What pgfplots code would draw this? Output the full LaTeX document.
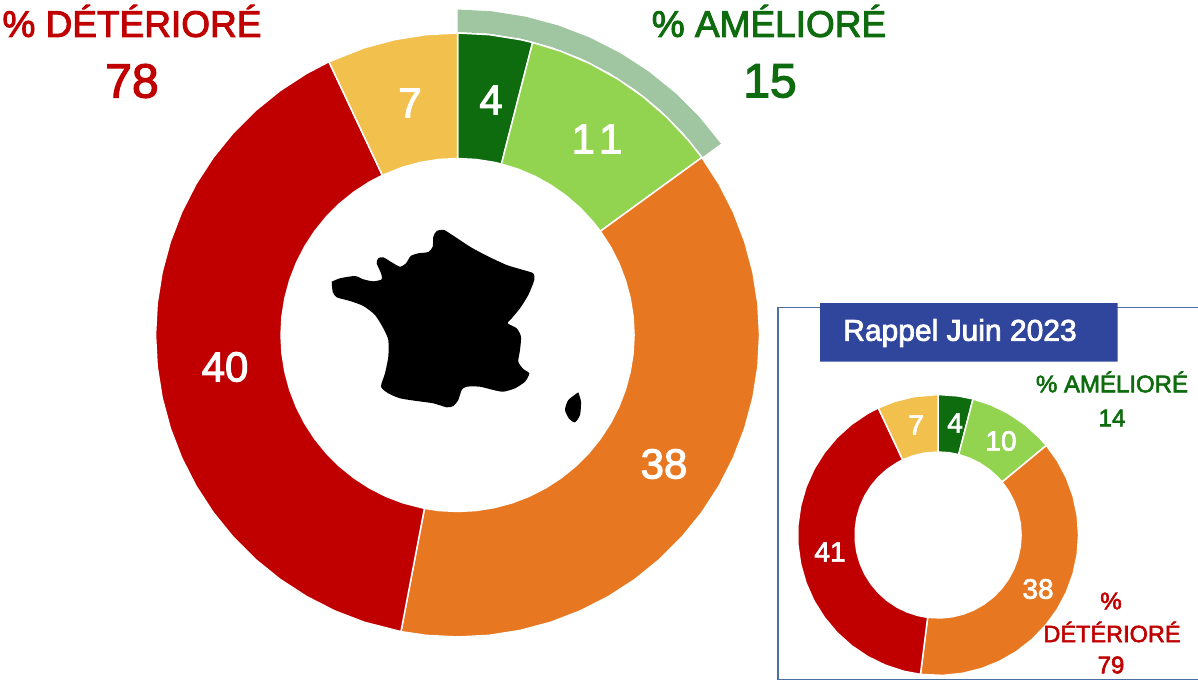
\documentclass[border=0pt]{standalone}
\usepackage{pgfplots}
\pgfplotsset{compat=1.18}
\usepackage{fontspec}
\setmainfont{Liberation Sans}[RawFeature={embolden=2.5}]
\definecolor{dgreen}{HTML}{0E6B0E}
\definecolor{lgreen}{HTML}{92D350}
\definecolor{orange1}{HTML}{E87722}
\definecolor{red1}{HTML}{C00000}
\definecolor{yellow1}{HTML}{F2C04C}
\definecolor{band}{HTML}{9FC6A0}
\definecolor{blue1}{HTML}{30459C}
\definecolor{frame1}{HTML}{4A6FA5}
\pgfplotsset{
  canvas/.style={width=1198pt,height=680pt,scale only axis,hide axis,clip=false,at={(0,0)},anchor=south west},
  sector/.style={data cs=polar,fill=#1,draw=white,line width=1.5pt,line join=round,forget plot},
}
\begin{document}
\begin{tikzpicture}[x=1pt,y=1pt]
\path[use as bounding box] (0,0) rectangle (1198,680);
% main donut, origin at its centre
\begin{axis}[canvas,xmin=-457.5,xmax=740.5,ymin=-345,ymax=335]
\addplot[data cs=polar,fill=band,draw=none,forget plot] coordinates {(90,325.5)(84,325.5)(78,325.5)(72,325.5)(66,325.5)(60,325.5)(54,325.5)(48,325.5)(42,325.5)(36,325.5)(36,303)(42,303)(48,303)(54,303)(60,303)(66,303)(72,303)(78,303)(84,303)(90,303)(90,325.5)};
% 4
\addplot[sector=dgreen] coordinates {(90,302)(84,302)(78,302)(75.6,302)(75.6,176.5)(78,176.5)(84,176.5)(90,176.5)(90,302)};
% 11
\addplot[sector=lgreen] coordinates {(75.6,302)(70,302)(64,302)(58,302)(52,302)(46,302)(40,302)(36,302)(36,176.5)(40,176.5)(46,176.5)(52,176.5)(58,176.5)(64,176.5)(70,176.5)(75.6,176.5)(75.6,302)};
% 38
\addplot[sector=orange1] coordinates {(36,302)(30,302)(24,302)(18,302)(12,302)(6,302)(0,302)(-6,302)(-12,302)(-18,302)(-24,302)(-30,302)(-36,302)(-42,302)(-48,302)(-54,302)(-60,302)(-66,302)(-72,302)(-78,302)(-84,302)(-90,302)(-96,302)(-100.8,302)
(-100.8,176.5)(-96,176.5)(-90,176.5)(-84,176.5)(-78,176.5)(-72,176.5)(-66,176.5)(-60,176.5)(-54,176.5)(-48,176.5)(-42,176.5)(-36,176.5)(-30,176.5)(-24,176.5)(-18,176.5)(-12,176.5)(-6,176.5)(0,176.5)(6,176.5)(12,176.5)(18,176.5)(24,176.5)(30,176.5)(36,176.5)(36,302)};
% 40
\addplot[sector=red1] coordinates {(-100.8,302)(-108,302)(-114,302)(-120,302)(-126,302)(-132,302)(-138,302)(-144,302)(-150,302)(-156,302)(-162,302)(-168,302)(-174,302)(-180,302)(-186,302)(-192,302)(-198,302)(-204,302)(-210,302)(-216,302)(-222,302)(-228,302)(-234,302)(-240,302)(-244.8,302)
(-244.8,176.5)(-240,176.5)(-234,176.5)(-228,176.5)(-222,176.5)(-216,176.5)(-210,176.5)(-204,176.5)(-198,176.5)(-192,176.5)(-186,176.5)(-180,176.5)(-174,176.5)(-168,176.5)(-162,176.5)(-156,176.5)(-150,176.5)(-144,176.5)(-138,176.5)(-132,176.5)(-126,176.5)(-120,176.5)(-114,176.5)(-108,176.5)(-100.8,176.5)(-100.8,302)};
% 7
\addplot[sector=yellow1] coordinates {(-244.8,302)(-252,302)(-258,302)(-264,302)(-270,302)(-270,176.5)(-264,176.5)(-258,176.5)(-252,176.5)(-244.8,176.5)(-244.8,302)};
\end{axis}
% pixel axis: frame behind the small donut
\begin{axis}[canvas,xmin=0,xmax=1198,ymin=0,ymax=680,y dir=reverse]
\addplot[draw=frame1,line width=1.3pt,forget plot] coordinates {(1198,307.5)(778,307.5)(778,679.3)(1198,679.3)};
\end{axis}
% small donut, origin at its centre
\begin{axis}[canvas,xmin=-938,xmax=260,ymin=-145,ymax=535]
% 4
\addplot[sector=dgreen] coordinates {(90,140.5)(82,140.5)(75.6,140.5)(75.6,83)(82,83)(90,83)(90,140.5)};
% 10
\addplot[sector=lgreen] coordinates {(75.6,140.5)(68,140.5)(60,140.5)(52,140.5)(44,140.5)(39.6,140.5)(39.6,83)(44,83)(52,83)(60,83)(68,83)(75.6,83)(75.6,140.5)};
% 38
\addplot[sector=orange1] coordinates {(39.6,140.5)(32,140.5)(24,140.5)(16,140.5)(8,140.5)(0,140.5)(-8,140.5)(-16,140.5)(-24,140.5)(-32,140.5)(-40,140.5)(-48,140.5)(-56,140.5)(-64,140.5)(-72,140.5)(-80,140.5)(-88,140.5)(-97.2,140.5)
(-97.2,83)(-88,83)(-80,83)(-72,83)(-64,83)(-56,83)(-48,83)(-40,83)(-32,83)(-24,83)(-16,83)(-8,83)(0,83)(8,83)(16,83)(24,83)(32,83)(39.6,83)(39.6,140.5)};
% 41
\addplot[sector=red1] coordinates {(-97.2,140.5)(-104,140.5)(-112,140.5)(-120,140.5)(-128,140.5)(-136,140.5)(-144,140.5)(-152,140.5)(-160,140.5)(-168,140.5)(-176,140.5)(-184,140.5)(-192,140.5)(-200,140.5)(-208,140.5)(-216,140.5)(-224,140.5)(-232,140.5)(-240,140.5)(-244.8,140.5)
(-244.8,83)(-240,83)(-232,83)(-224,83)(-216,83)(-208,83)(-200,83)(-192,83)(-184,83)(-176,83)(-168,83)(-160,83)(-152,83)(-144,83)(-136,83)(-128,83)(-120,83)(-112,83)(-104,83)(-97.2,83)(-97.2,140.5)};
% 7
\addplot[sector=yellow1] coordinates {(-244.8,140.5)(-252,140.5)(-260,140.5)(-270,140.5)(-270,83)(-260,83)(-252,83)(-244.8,83)(-244.8,140.5)};
\end{axis}
% pixel axis: map, header and all the text
\begin{axis}[canvas,xmin=0,xmax=1198,ymin=0,ymax=680,y dir=reverse,
  every node/.append style={inner sep=0pt,anchor=center,align=center}]
\addplot[fill=black,draw=none,smooth,tension=0.4,forget plot] coordinates {(331.7,281.7)(340,278.3)(355,276)(363.3,279.3)(373.3,281.3)(381.7,279.3)(381,273.3)(376.7,263.3)(378.3,258.3)(383.3,257.3)(391.7,262.3)(400,266.7)(406,263.3)(410.7,256)(418.3,253.3)(428.3,252)(432.7,246.7)(433.3,236.7)(436.7,231)(444,230)(453.3,235.7)(470,246.7)(486.7,255.7)(506.7,265)(523.3,270)(533.3,273.3)(534.3,280)(528.3,295)(520,308.3)(511.7,318.3)(507.7,323.3)(516.7,328.3)(521,336.7)(520,350)(518.3,361.7)(523.3,369)(529.3,373.3)(525,381.7)(515,388.3)(503.3,391.7)(493.3,390)(480,386.7)(466.7,386.7)(461.7,390)(458.3,400)(453.3,406)(446.7,407.3)(433.3,403.3)(416.7,401)(400,398.3)(388.3,393.3)(381,386.7)(385,373.3)(388.3,356.7)(388.3,340)(383.3,328.3)(375,315)(363.3,306)(350,301)(336.7,297.3)(332.7,291.7)(331.7,281.7)};
\addplot[fill=black,draw=none,smooth,tension=0.4,forget plot] coordinates {(578.3,392.3)(581,401.7)(580,415)(575,422.3)(569.3,419)(565,410)(568.3,400)(578.3,392.3)};
\addplot[fill=blue1,draw=none,forget plot] coordinates {(820,303)(1117.5,303)(1117.5,361.5)(820,361.5)(820,303)};
\node[text=white] at (axis cs:960,333) {\fontsize{30}{30}\selectfont Rappel Juin 2023};
\node[text=red1] at (axis cs:132,21) {\fontsize{37}{37}\selectfont \% DÉTÉRIORÉ};
\node[text=red1] at (axis cs:132,81) {\fontsize{48}{48}\selectfont 78};
\node[text=dgreen] at (axis cs:769,21) {\fontsize{37}{37}\selectfont \% AMÉLIORÉ};
\node[text=dgreen] at (axis cs:770,81) {\fontsize{48}{48}\selectfont 15};
\node[text=dgreen] at (axis cs:1112,382) {\fontsize{24}{24}\selectfont \% AMÉLIORÉ};
\node[text=dgreen] at (axis cs:1112,418) {\fontsize{24}{24}\selectfont 14};
\node[text=red1] at (axis cs:1111,601) {\fontsize{24}{24}\selectfont \%};
\node[text=red1] at (axis cs:1112,632) {\fontsize{23.5}{24}\selectfont DÉTÉRIORÉ};
\node[text=red1] at (axis cs:1111,665) {\fontsize{24}{24}\selectfont 79};
\node[text=white] at (axis cs:410,103) {\fontsize{42}{42}\selectfont 7};
\node[text=white] at (axis cs:491,100) {\fontsize{42}{42}\selectfont 4};
\node[text=white] at (axis cs:597,139) {\fontsize{42}{42}\selectfont 1\kern4pt 1};
\node[text=white] at (axis cs:664,464) {\fontsize{42}{42}\selectfont 38};
\node[text=white] at (axis cs:225,367) {\fontsize{42}{42}\selectfont 40};
\node[text=white] at (axis cs:916,425) {\fontsize{28}{28}\selectfont 7};
\node[text=white] at (axis cs:955,423) {\fontsize{28}{28}\selectfont 4};
\node[text=white] at (axis cs:1001,441) {\fontsize{28}{28}\selectfont 10};
\node[text=white] at (axis cs:1038,589) {\fontsize{28}{28}\selectfont 38};
\node[text=white] at (axis cs:830,552) {\fontsize{28}{28}\selectfont 41};
\end{axis}
\end{tikzpicture}
\end{document}
